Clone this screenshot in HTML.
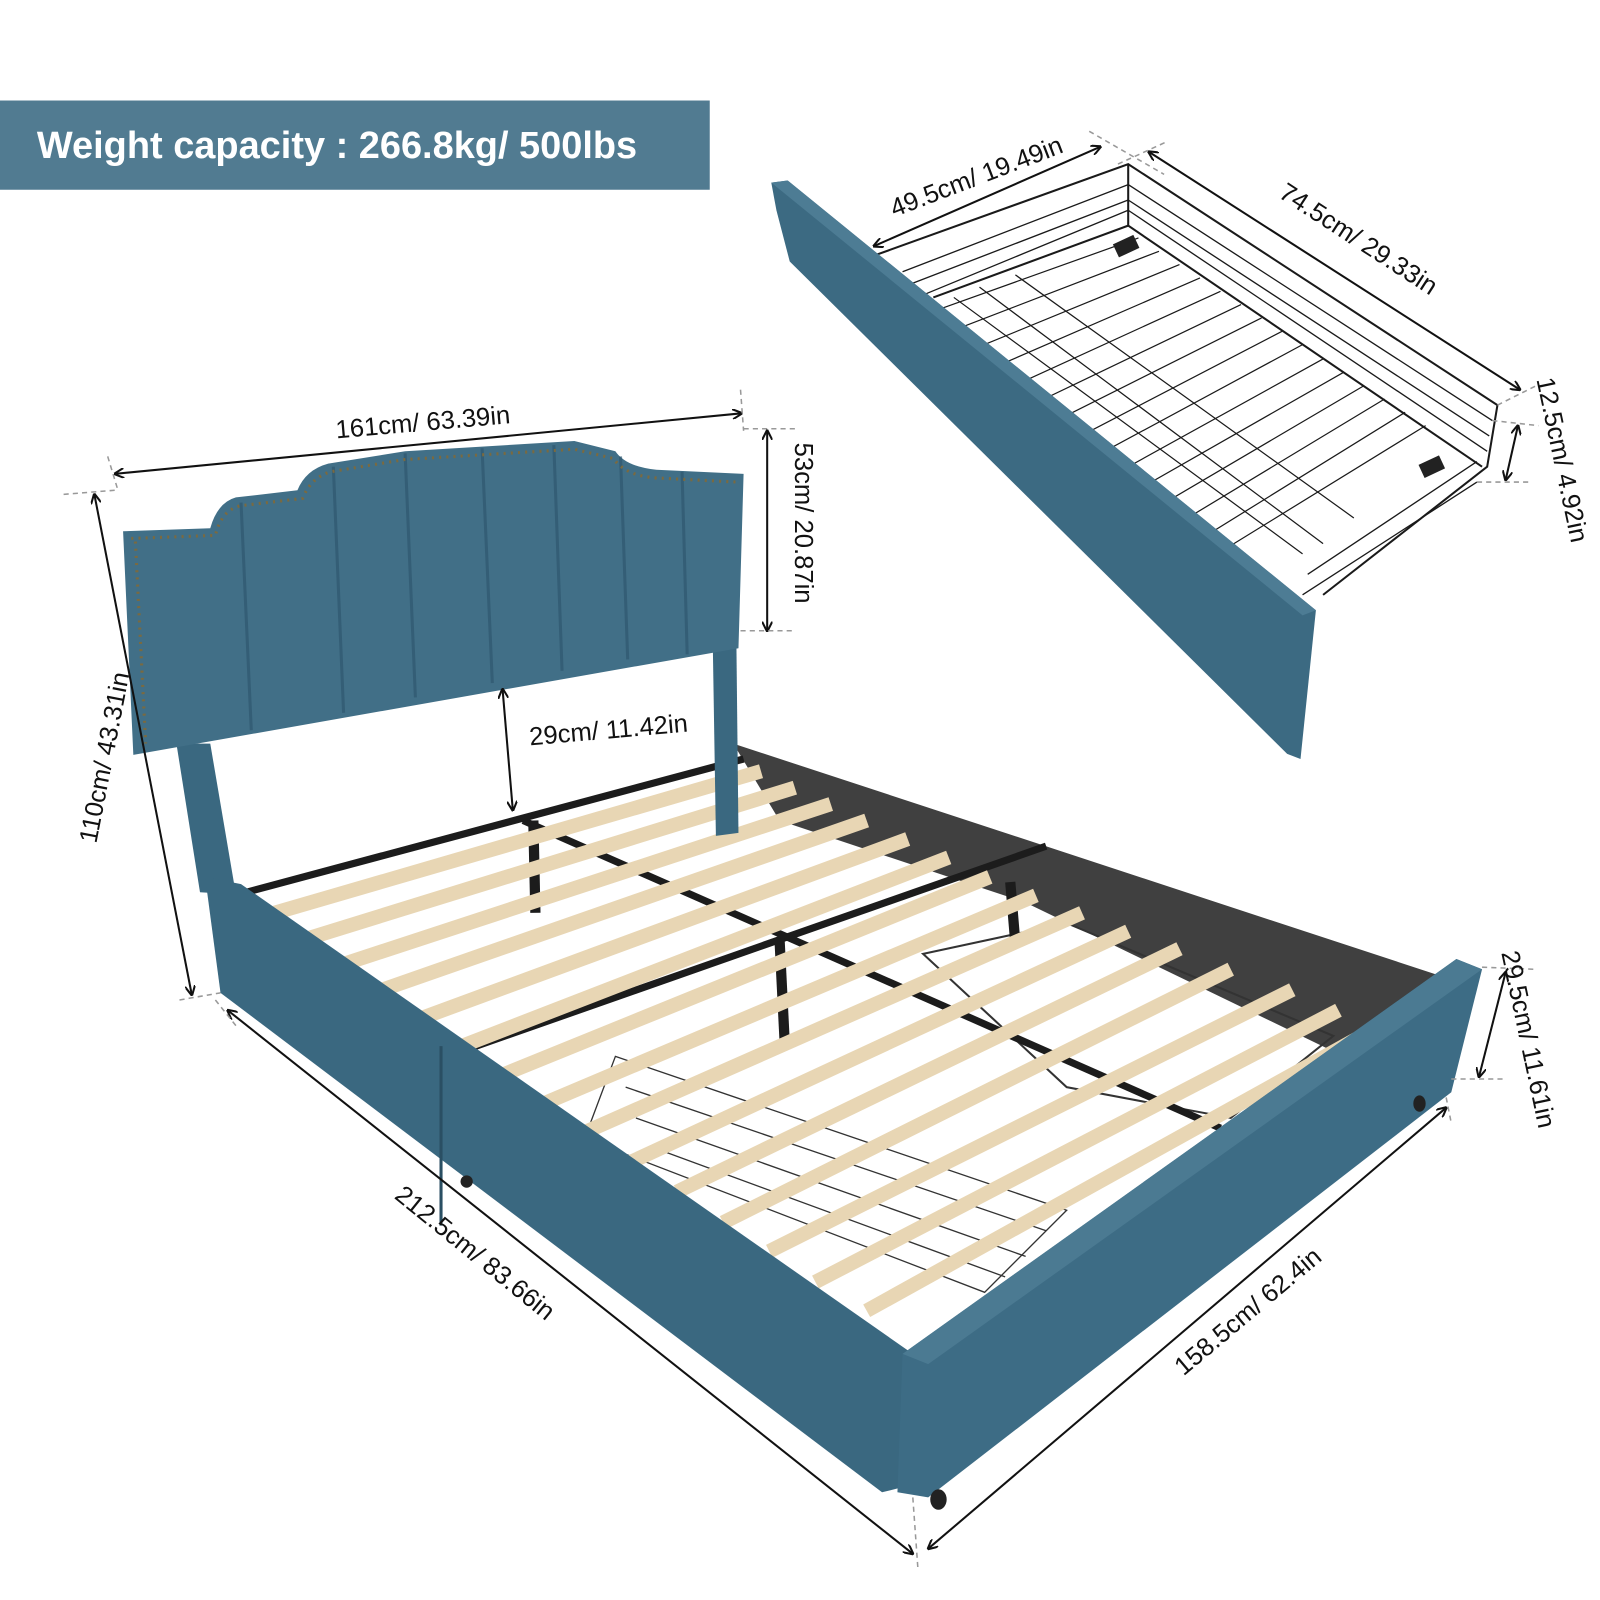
<!DOCTYPE html>
<html><head><meta charset="utf-8"><style>
html,body{margin:0;padding:0;background:#fff;width:1600px;height:1600px;overflow:hidden}
svg{display:block}
text{font-family:"Liberation Sans",sans-serif;fill:#111}
</style></head><body>
<svg width="1600" height="1600" viewBox="0 0 1560 1560" xmlns="http://www.w3.org/2000/svg">
<defs>
<marker id="a" markerWidth="10" markerHeight="10" refX="9" refY="5" orient="auto-start-reverse" markerUnits="userSpaceOnUse"><path d="M0,0 L10,5 L0,10" fill="none" stroke="#111" stroke-width="2"/></marker>
</defs>
<rect x="0" y="98" width="692" height="87" fill="#517b91"/>
<text x="36" y="154" font-size="37" font-weight="bold" style="fill:#fff">Weight capacity : 266.8kg/ 500lbs</text>

<!-- drawer basket -->
<g stroke="#1a1a1a" stroke-width="2" fill="none">
<path d="M850,250 L1100,160 L1460,395 L1450,455 L1290,580"/>
<path d="M1100,160 L1100,220 L1445,455"/>
<path d="M910,290 L1100,220"/>
<g stroke-width="1.3">
<path d="M880,265 L1100,180 M880,280 L1100,195 M870,300 L1100,205"/>
<path d="M1100,180 L1455,410 M1100,195 L1452,425 M1100,205 L1450,440"/>
<path d="M1440,470 L1270,580 M1440,450 L1275,560"/>
</g>
<g stroke-width="1.2">
<path d="M930,290 L1270,540 M955,280 L1290,530 M990,268 L1320,505"/>
<path d="M920,300 L1110,232 M935,320 L1130,245 M950,340 L1150,258 M965,360 L1170,271 M980,380 L1190,284 M995,400 L1210,297 M1010,420 L1230,310 M1025,440 L1250,323 M1040,460 L1270,336 M1055,480 L1290,350 M1070,500 L1310,363 M1085,520 L1330,376 M1100,540 L1350,389 M1115,560 L1370,402 M1130,575 L1390,415"/>
</g>
</g>
<rect x="1087" y="233" width="22" height="14" fill="#222" transform="rotate(-25 1098 240)"/>
<rect x="1385" y="448" width="22" height="14" fill="#222" transform="rotate(-25 1396 455)"/>
<polygon points="752,178 768,176 1283,595 1268,740 1255,735 770,255 757,205" fill="#3c6a82"/>
<polygon points="752,178 768,176 1283,595 1270,600" fill="#4d7c94"/>

<!-- bed interior -->
<polygon points="235,870 715,725 1400,950 880,1310" fill="#fff"/>
<polygon points="715,725 1400,950 1310,1030 1000,880 760,800" fill="#2b2b2b" opacity="0.9"/>
<polygon points="900,930 1040,900 1300,1010 1200,1090 1040,1060" fill="none" stroke="#333" stroke-width="2"/>
<g stroke="#333" stroke-width="1.3" fill="none">
<path d="M600,1030 L1040,1180 L960,1260 L570,1110 Z"/>
<path d="M610,1060 L1020,1200 M620,1090 L1000,1225 M640,1120 L980,1245"/>
</g>
<g stroke="#1c1c1c" stroke-width="7">
<line x1="240" y1="870" x2="725" y2="740"/>
<line x1="450" y1="1025" x2="1020" y2="825"/>
<line x1="510" y1="800" x2="1190" y2="1100"/>
</g>
<g stroke="#1c1c1c" stroke-width="10">
<line x1="520" y1="800" x2="522" y2="890"/>
<line x1="760" y1="915" x2="765" y2="1015"/>
<line x1="985" y1="860" x2="990" y2="920"/>
</g>
<g stroke="#e8d6b4" stroke-width="14" stroke-linecap="butt">
<line x1="268" y1="890" x2="742" y2="752"/>
<line x1="300" y1="915" x2="775" y2="768"/>
<line x1="335" y1="940" x2="810" y2="784"/>
<line x1="370" y1="966" x2="845" y2="800"/>
<line x1="410" y1="993" x2="885" y2="818"/>
<line x1="450" y1="1020" x2="925" y2="836"/>
<line x1="490" y1="1048" x2="965" y2="855"/>
<line x1="530" y1="1076" x2="1010" y2="873"/>
<line x1="570" y1="1104" x2="1055" y2="890"/>
<line x1="615" y1="1133" x2="1100" y2="908"/>
<line x1="660" y1="1162" x2="1150" y2="925"/>
<line x1="705" y1="1192" x2="1200" y2="945"/>
<line x1="750" y1="1220" x2="1260" y2="965"/>
<line x1="795" y1="1250" x2="1305" y2="985"/>
<line x1="845" y1="1278" x2="1355" y2="995"/>
</g>
<!-- headboard posts -->
<polygon points="172,725 205,725 230,872 195,870" fill="#3a6880"/>
<polygon points="695,630 718,628 720,812 698,815" fill="#3a6880"/>
<!-- headboard -->
<path d="M120,518 L205,515 Q212,490 230,485 L290,478 Q298,458 320,452 L395,440 L560,430 L600,440 Q610,455 640,458 L725,462 L720,632 L130,736 Z" fill="#416f87"/>
<g stroke="#2f5870" stroke-width="3" opacity="0.7">
<line x1="235" y1="490" x2="245" y2="712"/>
<line x1="325" y1="455" x2="335" y2="695"/>
<line x1="395" y1="442" x2="405" y2="680"/>
<line x1="470" y1="437" x2="480" y2="666"/>
<line x1="540" y1="434" x2="548" y2="654"/>
<line x1="605" y1="445" x2="612" y2="643"/>
<line x1="665" y1="460" x2="670" y2="638"/>
</g>
<path d="M128,525 L210,522 Q216,497 235,493 L295,486 Q303,466 322,460 L395,448 L560,438 L598,447 Q610,464 640,466 L718,470 M132,528 L142,725" fill="none" stroke="#7a6a40" stroke-width="3" stroke-dasharray="2,5"/>
<!-- side panel -->
<polygon points="200,855 235,862 890,1320 880,1450 860,1455 215,968" fill="#3a6880"/>
<line x1="430" y1="1020" x2="430" y2="1195" stroke="#2a4f63" stroke-width="3"/>
<!-- foot panel -->
<polygon points="880,1320 1420,935 1445,945 1415,1065 905,1460 875,1455" fill="#3d6c85"/>
<polygon points="880,1320 1420,935 1445,945 905,1330" fill="#4b7a92"/>
<ellipse cx="915" cy="1462" rx="8" ry="10" fill="#222"/>
<ellipse cx="1384" cy="1076" rx="6" ry="8" fill="#222"/>
<ellipse cx="455" cy="1152" rx="6" ry="6" fill="#222"/>

<g stroke="#111" stroke-width="2" fill="none">
<line x1="112" y1="462" x2="723" y2="403" marker-start="url(#a)" marker-end="url(#a)"/>
<line x1="748" y1="420" x2="748" y2="615" marker-start="url(#a)" marker-end="url(#a)"/>
<line x1="92" y1="482" x2="187" y2="970" marker-start="url(#a)" marker-end="url(#a)"/>
<line x1="490" y1="672" x2="500" y2="790" marker-start="url(#a)" marker-end="url(#a)"/>
<line x1="852" y1="240" x2="1073" y2="143" marker-start="url(#a)" marker-end="url(#a)"/>
<line x1="1120" y1="148" x2="1482" y2="380" marker-start="url(#a)" marker-end="url(#a)"/>
<line x1="1480" y1="415" x2="1468" y2="468" marker-start="url(#a)" marker-end="url(#a)"/>
<line x1="1468" y1="948" x2="1442" y2="1050" marker-start="url(#a)" marker-end="url(#a)"/>
<line x1="222" y1="985" x2="890" y2="1515" marker-start="url(#a)" marker-end="url(#a)"/>
<line x1="905" y1="1510" x2="1410" y2="1080" marker-start="url(#a)" marker-end="url(#a)"/>
</g>
<g stroke="#999" stroke-width="1.5" stroke-dasharray="5,4" fill="none">
<line x1="105" y1="445" x2="115" y2="478"/><line x1="722" y1="380" x2="725" y2="420"/>
<line x1="725" y1="418" x2="775" y2="418"/><line x1="722" y1="615" x2="775" y2="615"/>
<line x1="62" y1="482" x2="112" y2="478"/><line x1="175" y1="975" x2="215" y2="968"/>
<line x1="1062" y1="128" x2="1135" y2="170"/><line x1="1090" y1="160" x2="1138" y2="138"/>
<line x1="1460" y1="395" x2="1500" y2="375"/><line x1="1455" y1="410" x2="1500" y2="415"/>
<line x1="1440" y1="470" x2="1490" y2="470"/>
<line x1="1445" y1="943" x2="1495" y2="945"/><line x1="1415" y1="1052" x2="1465" y2="1052"/>
<line x1="210" y1="975" x2="230" y2="1000"/><line x1="890" y1="1460" x2="895" y2="1530"/>
<line x1="1410" y1="1070" x2="1415" y2="1095"/>
</g>
<g font-size="25">
<text x="0" y="0" text-anchor="middle" transform="translate(413,420) rotate(-5)">161cm/ 63.39in</text>
<text x="0" y="0" text-anchor="middle" transform="translate(775,510) rotate(90)">53cm/ 20.87in</text>
<text x="0" y="0" text-anchor="middle" transform="translate(110,740) rotate(-79)">110cm/ 43.31in</text>
<text x="0" y="0" text-anchor="middle" transform="translate(594,720) rotate(-5)">29cm/ 11.42in</text>
<text x="0" y="0" text-anchor="middle" transform="translate(955,180) rotate(-21)">49.5cm/ 19.49in</text>
<text x="0" y="0" text-anchor="middle" transform="translate(1320,240) rotate(33)">74.5cm/ 29.33in</text>
<text x="0" y="0" text-anchor="middle" transform="translate(1515,450) rotate(78)">12.5cm/ 4.92in</text>
<text x="0" y="0" text-anchor="middle" transform="translate(1482,1015) rotate(78)">29.5cm/ 11.61in</text>
<text x="0" y="0" text-anchor="middle" transform="translate(458,1228) rotate(39)">212.5cm/ 83.66in</text>
<text x="0" y="0" text-anchor="middle" transform="translate(1222,1285) rotate(-40)">158.5cm/ 62.4in</text>
</g>
</svg>
</body></html>
